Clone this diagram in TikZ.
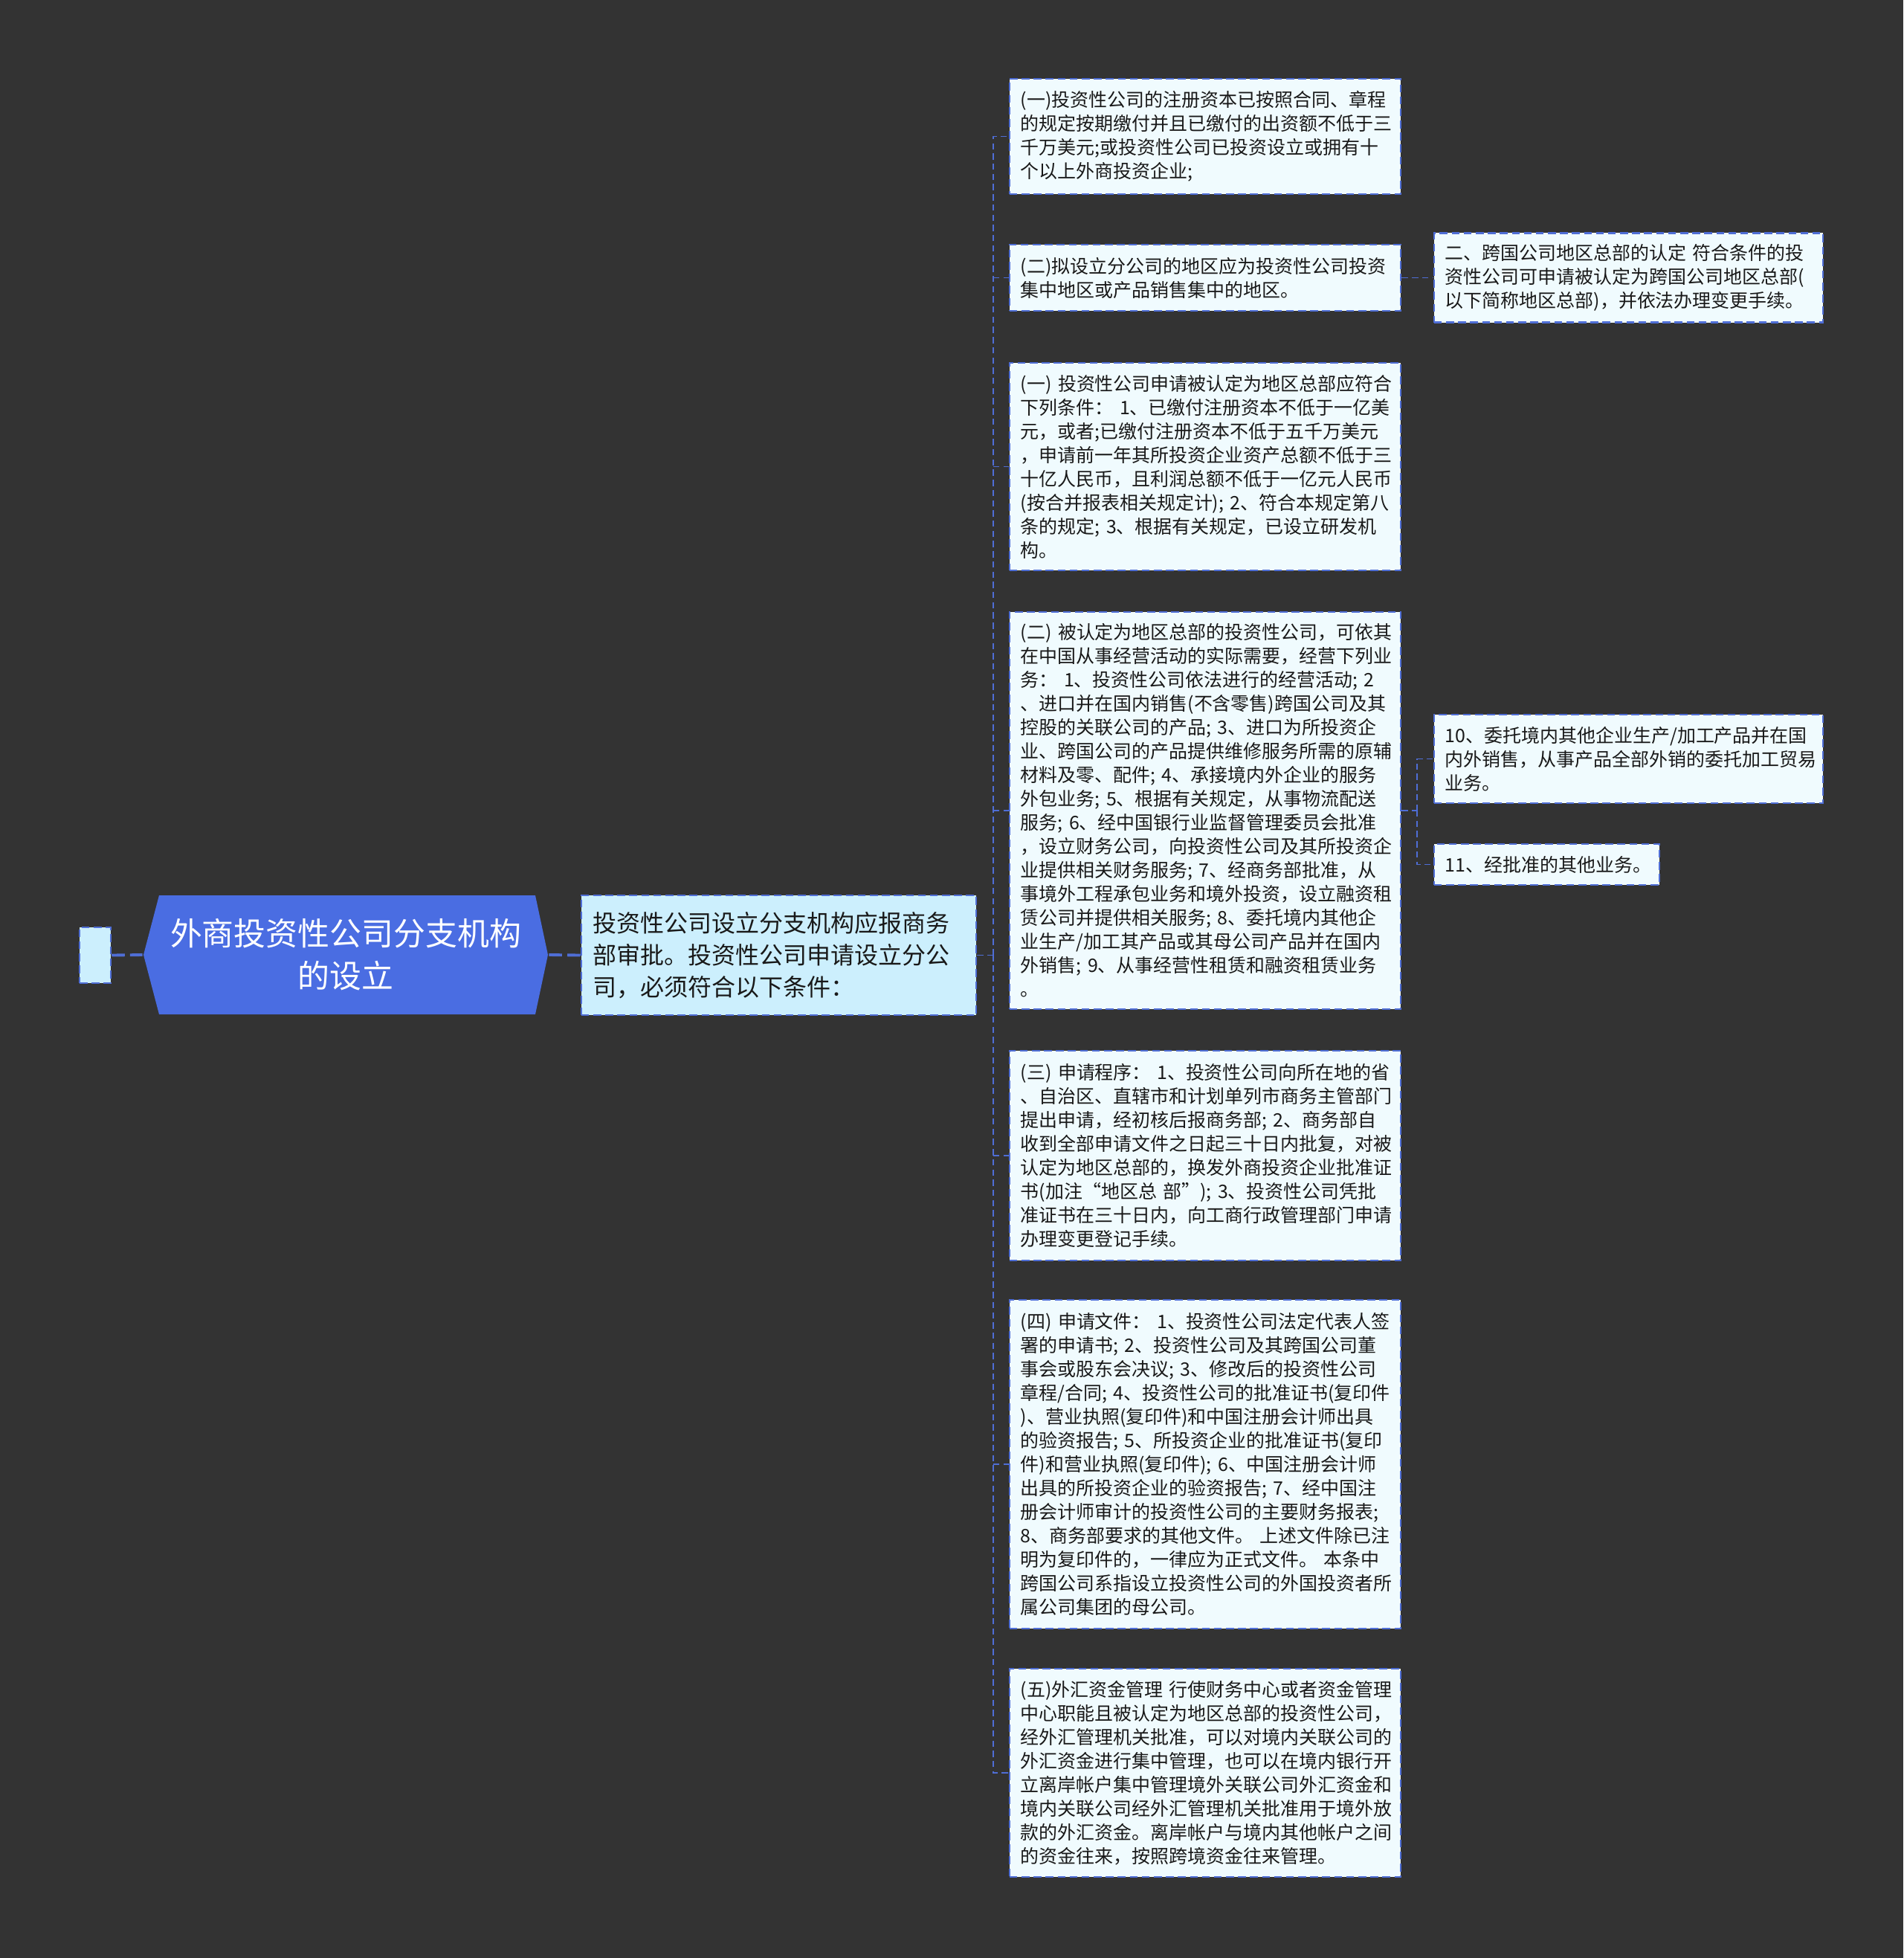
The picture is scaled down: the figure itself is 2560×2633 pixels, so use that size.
\documentclass[tikz,border=0pt]{standalone}
\usepackage{fontspec}
\setmainfont{Noto Sans CJK SC}
\usepackage{tikz}
\definecolor{bgdark}{HTML}{333333}
\definecolor{lineblue}{HTML}{4F6ED6}
\definecolor{rootblue}{HTML}{4A6DE2}
\definecolor{midfill}{HTML}{CCEFFD}
\definecolor{leaffill}{HTML}{F0FBFE}

\begin{document}
\begin{tikzpicture}[x=0.01cm,y=-0.01cm]
\tikzstyle{every node}=[draw=lineblue,line width=0.7pt,dash pattern=on 3pt off 1.6pt,align=left,inner ysep=0pt];
\tikzstyle{leaf}=[fill=leaffill,text=black!90,inner xsep=0.15cm,text width=4.96cm,font=\fontsize{7.1pt}{9.1pt}\selectfont];
\tikzstyle{link}=[draw=lineblue,line width=0.45pt,dash pattern=on 2.4pt off 1.5pt];
\tikzstyle{thicklink}=[draw=lineblue,line width=1.1pt,dash pattern=on 5pt off 2pt];
\useasboundingbox (0,0) rectangle (2560,2633);
\fill[bgdark] (0,0) rectangle (2560,2633);
% hexagon behind the main title
\fill[rootblue] (193,1284) -- (214,1204) -- (720,1204) -- (737,1284) -- (720,1364) -- (214,1364) -- cycle;
\path (128,1284.5) node[fill=midfill,minimum width=0.42cm,minimum height=0.75cm,inner sep=0pt] (v0) {};
\path (465,1284) node[draw=none,align=center,text=white,minimum width=5.44cm,minimum height=1.6cm,font=\fontsize{12.2pt}{16.2pt}\selectfont] (v1) {外商投资性公司分支机构\\的设立};
\path (1047.5,1284.5) node[fill=midfill,text=black!90,inner xsep=0.16cm,text width=4.99cm,minimum height=1.61cm,font=\fontsize{9.1pt}{12.2pt}\selectfont] (v2) {投资性公司设立分支机构应报商务\\部审批。投资性公司申请设立分公\\司，必须符合以下条件：};
\path (1621,183.5) node[leaf,minimum height=1.55cm] (v3) {(一)投资性公司的注册资本已按照合同、章程\\的规定按期缴付并且已缴付的出资额不低于三\\千万美元;或投资性公司已投资设立或拥有十\\个以上外商投资企业;};
\path (1621,373.5) node[leaf,minimum height=0.89cm] (v4) {(二)拟设立分公司的地区应为投资性公司投资\\集中地区或产品销售集中的地区。};
\path (1621,627.5) node[leaf,minimum height=2.79cm] (v5) {(一)~投资性公司申请被认定为地区总部应符合\\下列条件：~1、已缴付注册资本不低于一亿美\\元，或者;已缴付注册资本不低于五千万美元\\，申请前一年其所投资企业资产总额不低于三\\十亿人民币，且利润总额不低于一亿元人民币\\(按合并报表相关规定计);~2、符合本规定第八\\条的规定;~3、根据有关规定，已设立研发机\\构。};
\path (1621,1090) node[leaf,minimum height=5.34cm] (v6) {(二)~被认定为地区总部的投资性公司，可依其\\在中国从事经营活动的实际需要，经营下列业\\务：~1、投资性公司依法进行的经营活动;~2\\、进口并在国内销售(不含零售)跨国公司及其\\控股的关联公司的产品;~3、进口为所投资企\\业、跨国公司的产品提供维修服务所需的原辅\\材料及零、配件;~4、承接境内外企业的服务\\外包业务;~5、根据有关规定，从事物流配送\\服务;~6、经中国银行业监督管理委员会批准\\，设立财务公司，向投资性公司及其所投资企\\业提供相关财务服务;~7、经商务部批准，从\\事境外工程承包业务和境外投资，设立融资租\\赁公司并提供相关服务;~8、委托境内其他企\\业生产/加工其产品或其母公司产品并在国内\\外销售;~9、从事经营性租赁和融资租赁业务\\。};
\path (1621,1554) node[leaf,minimum height=2.82cm] (v7) {(三)~申请程序：~1、投资性公司向所在地的省\\、自治区、直辖市和计划单列市商务主管部门\\提出申请，经初核后报商务部;~2、商务部自\\收到全部申请文件之日起三十日内批复，对被\\认定为地区总部的，换发外商投资企业批准证\\书(加注“地区总~部”);~3、投资性公司凭批\\准证书在三十日内，向工商行政管理部门申请\\办理变更登记手续。};
\path (1621,1969) node[leaf,minimum height=4.42cm] (v8) {(四)~申请文件：~1、投资性公司法定代表人签\\署的申请书;~2、投资性公司及其跨国公司董\\事会或股东会决议;~3、修改后的投资性公司\\章程/合同;~4、投资性公司的批准证书(复印件\\)、营业执照(复印件)和中国注册会计师出具\\的验资报告;~5、所投资企业的批准证书(复印\\件)和营业执照(复印件);~6、中国注册会计师\\出具的所投资企业的验资报告;~7、经中国注\\册会计师审计的投资性公司的主要财务报表;\\8、商务部要求的其他文件。~上述文件除已注\\明为复印件的，一律应为正式文件。~本条中\\跨国公司系指设立投资性公司的外国投资者所\\属公司集团的母公司。};
\path (1621,2384) node[leaf,minimum height=2.8cm] (v9) {(五)外汇资金管理~行使财务中心或者资金管理\\中心职能且被认定为地区总部的投资性公司，\\经外汇管理机关批准，可以对境内关联公司的\\外汇资金进行集中管理，也可以在境内银行开\\立离岸帐户集中管理境外关联公司外汇资金和\\境内关联公司经外汇管理机关批准用于境外放\\款的外汇资金。离岸帐户与境内其他帐户之间\\的资金往来，按照跨境资金往来管理。};
\path (2190.5,373.5) node[leaf,text width=4.93cm,minimum height=1.2cm] (v10) {二、跨国公司地区总部的认定~符合条件的投\\资性公司可申请被认定为跨国公司地区总部(\\以下简称地区总部)，并依法办理变更手续。};
\path (2190.5,1020.5) node[leaf,text width=4.93cm,minimum height=1.19cm] (v11) {10、委托境内其他企业生产/加工产品并在国\\内外销售，从事产品全部外销的委托加工贸易\\业务。};
\path (2080.5,1162.5) node[leaf,text width=2.73cm,minimum height=0.55cm] (v12) {11、经批准的其他业务。};
\coordinate (t1) at (1336,1284.5);
\coordinate (t2) at (1906,1090);
\draw[thicklink] (v0.east) -- (v1.west)
(v1.east) -- (v2.west);
\draw[link] (v2.east) -- (t1)
(t1) |- (v3.west)
(t1) |- (v9.west)
(t1 |- v4.west) -- (v4.west)
(t1 |- v5.west) -- (v5.west)
(t1 |- v6.west) -- (v6.west)
(t1 |- v7.west) -- (v7.west)
(t1 |- v8.west) -- (v8.west)
(v4.east) -- (v10.west)
(v6.east) -- (t2)
(t2) |- (v11.west)
(t2) |- (v12.west);
\end{tikzpicture}
\end{document}
